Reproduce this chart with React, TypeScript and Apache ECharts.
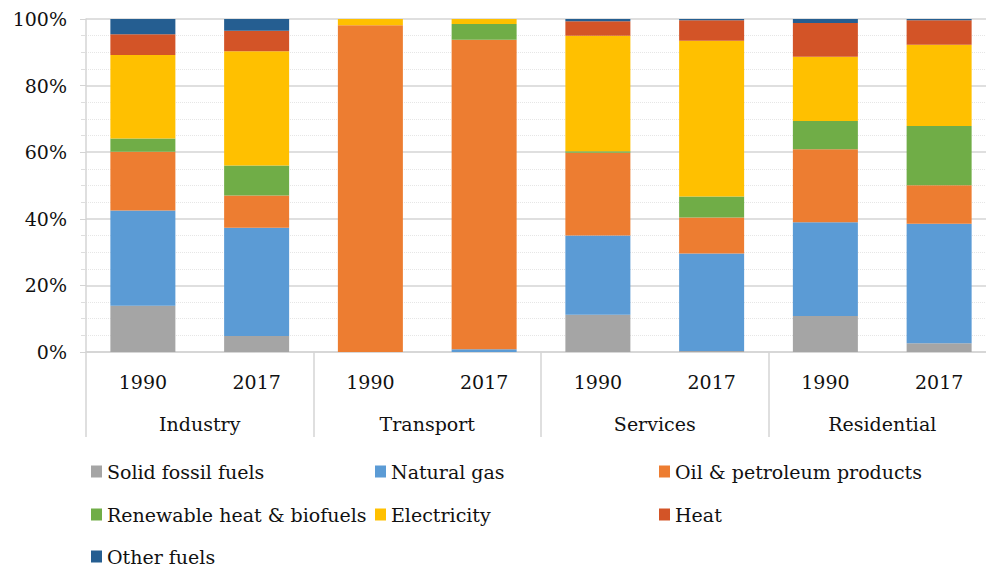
import React, { useEffect, useRef } from "react";
import * as echarts from "echarts";

const sectors = ["Industry", "Transport", "Services", "Residential"];
const years = ["1990", "2017", "1990", "2017", "1990", "2017", "1990", "2017"];
const yTickLabels = ["0%", "20%", "40%", "60%", "80%", "100%"];

const seriesNames = [
  "Solid fossil fuels",
  "Natural gas",
  "Oil & petroleum products",
  "Renewable heat & biofuels",
  "Electricity",
  "Heat",
  "Other fuels",
];

// shares in %, order: Ind90, Ind17, Tra90, Tra17, Ser90, Ser17, Res90, Res17
const solidFossil = [13.9, 4.8, 0, 0, 11.2, 0.3, 10.8, 2.6];
const naturalGas = [28.6, 32.5, 0, 0.8, 23.8, 29.3, 28.2, 35.9];
const oilPetroleum = [17.6, 9.7, 98.1, 93.0, 24.8, 10.8, 21.9, 11.6];
const renewable = [4.0, 9.0, 0, 4.7, 0.5, 6.3, 8.5, 17.8];
const electricity = [25.1, 34.3, 1.9, 1.5, 34.7, 46.8, 19.3, 24.4];
const heat = [6.2, 6.2, 0, 0, 4.3, 6.1, 10.1, 7.3];
const otherFuels = [4.6, 3.5, 0, 0, 0.7, 0.4, 1.2, 0.4];

const seriesValues = [solidFossil, naturalGas, oilPetroleum, renewable, electricity, heat, otherFuels];
const colors = ["#A5A5A5", "#5B9BD5", "#ED7D31", "#70AD47", "#FFC000", "#D35427", "#255E91"];

const FONT = "DejaVu Serif";
const FS = 19;

// legend layout: [left, centerY]
const legendPos: [number, number][] = [
  [91, 472],
  [375, 472],
  [659, 472],
  [91, 515],
  [375, 515],
  [659, 515],
  [91, 557],
];

export default function App() {
  const ref = useRef<HTMLDivElement>(null);

  useEffect(() => {
    if (!ref.current) return;
    const chart = echarts.init(ref.current, undefined, { renderer: "svg" });
    const option: any = {
      animation: false,
      backgroundColor: "#fff",
      color: colors,
      textStyle: { fontFamily: FONT },
      grid: { left: 86, right: 0, top: 19, bottom: 217, containLabel: false },
      xAxis: [
        {
          type: "category",
          position: "bottom",
          data: years,
          axisLine: { show: true, lineStyle: { color: "#D4D4D4", width: 1.5 } },
          axisTick: { show: false },
          axisLabel: { margin: 20, fontFamily: FONT, fontSize: FS, color: "#111" },
        },
        {
          type: "category",
          position: "bottom",
          offset: 0,
          data: sectors,
          axisLine: { show: false },
          axisTick: { show: true, length: 85, interval: 0, lineStyle: { color: "#D4D4D4", width: 1.5 } },
          axisLabel: { margin: 62, interval: 0, fontFamily: FONT, fontSize: FS, color: "#111" },
        },
      ],
      yAxis: {
        type: "value",
        min: 0,
        max: 100,
        interval: 20,
        axisLine: { show: true, lineStyle: { color: "#D4D4D4", width: 1.5 } },
        axisTick: { show: true, length: 6, lineStyle: { color: "#D4D4D4" } },
        minorTick: { show: true, splitNumber: 4, length: 5, lineStyle: { color: "#DEDEDE" } },
        splitLine: { show: true, lineStyle: { color: "#D4D4D4", width: 1.5 } },
        minorSplitLine: { show: true, lineStyle: { color: "#E6E6E6", width: 1, type: "dotted" } },
        axisLabel: {
          margin: 19,
          fontFamily: FONT,
          fontSize: FS,
          color: "#111",
          formatter: (v: number) => yTickLabels[Math.round(v / 20)] ?? "",
        },
      },
      legend: seriesNames.map((name, i) => ({
        show: true,
        data: [name],
        left: legendPos[i][0],
        top: legendPos[i][1] - 10,
        padding: 0,
        icon: "rect",
        itemWidth: 11,
        itemHeight: 12,
        selectedMode: false,
        textStyle: { fontFamily: FONT, fontSize: FS, color: "#111" },
      })),
      series: seriesNames.map((name, i) => ({
        name,
        type: "bar",
        stack: "total",
        xAxisIndex: 0,
        barWidth: 65,
        data: seriesValues[i],
        itemStyle: { color: colors[i] },
      })),
    };
    chart.setOption(option);
    return () => chart.dispose();
  }, []);

  return (
    <div
      style={{ position: "fixed", left: 0, top: 0, width: 986, height: 569, overflow: "hidden", background: "#fff" }}
    >
      <div ref={ref} style={{ width: 996, height: 569 }} />
    </div>
  );
}
